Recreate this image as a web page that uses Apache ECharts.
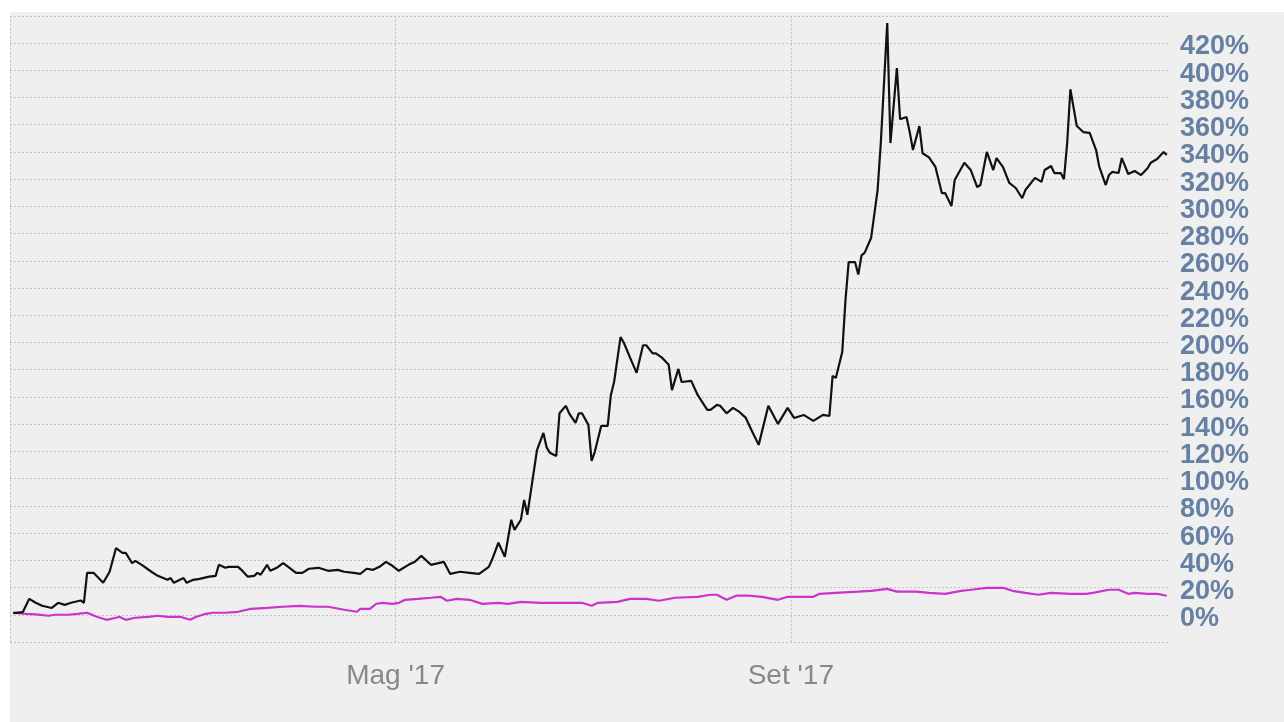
<!DOCTYPE html>
<html><head><meta charset="utf-8">
<script src="https://cdn.jsdelivr.net/npm/echarts@6/dist/echarts.min.js"></script>
<style>html,body{margin:0;padding:0;background:#ffffff;}#c{position:absolute;left:10px;top:12px;width:1274px;height:710px;}</style>
</head><body><div id="c"></div><script>
// [day of 2017 (0 = 1 Jan), value %]
const blackSeries = [[1,1.2],[4,2],[6,11.7],[8,8.8],[10,6.6],[13,5],[15,8.8],[17,7.3],[19,8.8],[22,10.5],[23,8.8],[24,30.8],[26,30.8],[29,23.5],[31,31.6],[33,49],[35,45.5],[36,45.5],[38,38],[39,39.6],[41,36.7],[44,31.6],[46,28.6],[49,25.7],[50,27],[51,23.5],[54,27],[55,23.5],[57,25.7],[59,26.4],[62,28],[64,28.6],[65,36.7],[67,34.5],[68,35.2],[71,35.2],[72,33],[74,28],[76,28.6],[77,30.8],[78,29.4],[80,36.7],[81,32.3],[83,34.5],[85,38],[87,34.5],[89,30.8],[91,30.8],[93,33.8],[96,34.5],[99,32.3],[102,33],[104,31.6],[107,30.8],[109,30],[111,33.8],[113,33],[115,35.2],[117,38.9],[119,36],[121,32.3],[124,36.7],[126,38.9],[128,43.3],[131,36.7],[135,38.9],[137,30],[140,31.6],[143,30.8],[146,30],[149,35.2],[150,40.4],[152,52.9],[154,42.6],[156,69.8],[157,62.4],[159,69.8],[160,84.4],[161,73.4],[164,121],[166,133.6],[167,123],[168,119],[170,116.7],[171,148],[173,153.5],[174,148],[176,141],[177,148],[178,148],[180,139.5],[181,113],[182,119.7],[184,138.8],[186,138.8],[187,161.5],[188,171],[190,204],[191,200],[193,188.7],[195,177.7],[197,198],[198,198],[200,192],[201,192],[203,188.7],[205,183.6],[206,165],[208,180.6],[209,171],[212,171.8],[214,161.5],[217,150.5],[218,150.5],[220,154.2],[221,153.5],[223,148],[225,152],[227,149],[229,144.6],[231,134.4],[233,124.8],[236,153.5],[239,140.2],[242,152],[244,144.6],[247,146.8],[250,142.4],[253,146.8],[255,146],[256,175.5],[257,174],[259,193],[260,231],[261,259],[263,259],[264,250],[265,264],[266,266],[268,277],[270,312],[271,346.5],[273,434.7],[274,346.5],[276,401.6],[277,364],[279,365.6],[280,354.6],[281,341.4],[283,359],[284,339],[286,336],[288,329],[290,309.8],[291,309.8],[293,300.3],[294,319.4],[297,332],[299,326.7],[301,314.2],[302,315.7],[304,340],[306,326.7],[307,335.5],[309,329],[311,317.2],[313,313.5],[315,306],[316,312],[319,320.9],[321,318],[322,326.7],[324,329.7],[325,324.5],[327,324.5],[328,320],[329,346.5],[330,386],[332,359],[334,354.6],[336,354],[338,341.4],[339,329],[341,315.7],[342,323],[343,325.3],[345,324.5],[346,335.5],[348,323.8],[350,326],[352,323],[354,328],[355,332],[357,334.8],[359,340],[360,337.7]];
const magentaSeries = [[1,1.5],[5,0.7],[8,0.3],[12,-0.7],[14,0],[18,0],[21,0.7],[24,1.5],[27,-1.5],[30,-3.7],[33,-2.2],[34,-1.5],[36,-3.7],[39,-2.2],[43,-1.5],[46,-0.7],[49,-1.5],[53,-1.5],[56,-3.7],[58,-1.5],[61,0.7],[63,1.5],[67,1.5],[71,2.2],[75,4.4],[80,5.1],[85,5.9],[90,6.6],[95,5.9],[99,5.9],[104,3.7],[108,2.2],[109,4.4],[112,4.4],[114,8.1],[116,8.8],[119,8],[121,8.8],[123,11],[127,11.7],[131,12.5],[134,13.2],[136,10.3],[139,11.7],[143,11],[147,8],[152,8.8],[155,8],[159,9.5],[165,8.8],[170,8.8],[174,8.8],[178,8.8],[181,6.6],[183,8.8],[189,9.5],[193,11.7],[198,11.7],[202,10.3],[207,12.5],[214,13.2],[218,14.7],[220,14.7],[223,11],[226,14],[230,14],[234,13.2],[239,11],[242,13.2],[250,13.2],[252,15.4],[257,16.1],[264,17],[268,17.6],[273,19],[276,17],[282,17],[286,16.1],[291,15.4],[296,17.6],[299,18.4],[304,19.8],[309,19.8],[312,17.6],[316,16.1],[320,14.7],[324,16.1],[330,15.4],[335,15.4],[337,16.1],[342,18.4],[345,18.4],[348,15.4],[350,16.1],[354,15.4],[357,15.4],[360,14]];
const yTickValues = [0,20,40,60,80,100,120,140,160,180,200,220,240,260,280,300,320,340,360,380,400,420];
const xGridDates = ['2017-01-01','2017-05-01','2017-09-01'];
const xLabelDates = ['2017-05-01','2017-09-01'];
const monthNames = ['Gen','Feb','Mar','Apr','Mag','Giu','Lug','Ago','Set','Ott','Nov','Dic'];
const startDate = '2017-01-01';
const endDay = 361;

const DAY = 86400000;
const t0 = Date.parse(startDate + 'T00:00:00Z');
const dayOf = s => Math.round((Date.parse(s + 'T00:00:00Z') - t0) / DAY);

const chart = echarts.init(document.getElementById('c'));
chart.setOption({
  backgroundColor: '#efefef',
  animation: false,
  grid: { left: 0, right: 114, top: 3.8, bottom: 80, containLabel: false },
  xAxis: {
    type: 'value',
    min: 0, max: endDay,
    axisLine: { show: false },
    axisTick: { show: false, customValues: xGridDates.map(dayOf) },
    splitLine: { show: true, lineStyle: { color: '#c2c2c2', type: [2, 2], width: 1 } },
    axisLabel: {
      customValues: xLabelDates.map(dayOf),
      margin: 20,
      color: '#888888', fontSize: 28, fontFamily: 'Liberation Sans',
      formatter: v => { const d = new Date(t0 + v * DAY); return monthNames[d.getUTCMonth()] + " '" + String(d.getUTCFullYear()).slice(2); }
    }
  },
  yAxis: {
    type: 'value', position: 'right', min: -20, max: 440, interval: 20,
    axisLine: { show: false }, axisTick: { show: false },
    splitLine: { show: true, lineStyle: { color: '#c2c2c2', type: [2, 2], width: 1 } },
    axisLabel: {
      customValues: yTickValues, margin: 10, verticalAlign: 'top', lineHeight: 8,
      color: '#6580a3', fontSize: 27, fontWeight: 'bold', fontFamily: 'Liberation Sans',
      formatter: v => v + '%'
    }
  },
  series: [{
    type: 'line', showSymbol: false, symbol: 'none',
    data: magentaSeries,
    lineStyle: { color: '#cc33cc', width: 2.2 }
  }, {
    type: 'line', showSymbol: false, symbol: 'none',
    data: blackSeries,
    lineStyle: { color: '#111111', width: 2.2 }
  }]
});
</script></body></html>
